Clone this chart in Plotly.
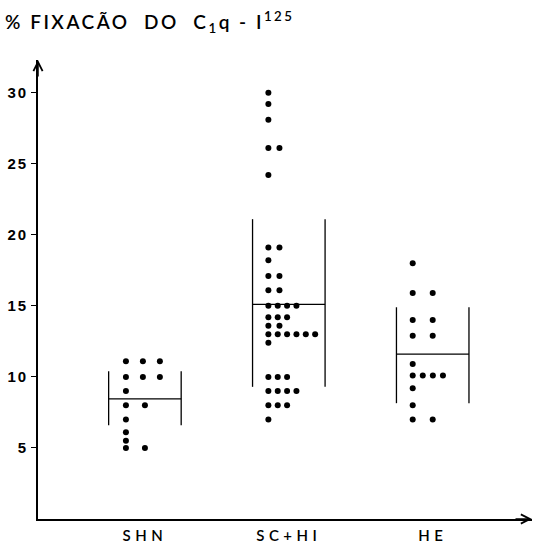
import plotly.graph_objects as go

# ---------------- data ----------------
categories = ["SHN", "SC+HI", "HE"]
shn_values = [11.1, 11.1, 11.1, 10.0, 10.0, 10.0, 9.0, 8.0, 8.0, 7.0, 6.1, 5.5, 5.0, 5.0]
schi_values = [30.0, 29.2, 28.1, 26.1, 26.1, 24.2, 19.1, 19.1, 18.2, 17.1, 17.1, 16.1, 16.1,
               15.0, 15.0, 15.0, 15.0, 14.2, 14.2, 14.2, 13.6, 13.6,
               13.0, 13.0, 13.0, 13.0, 13.0, 13.0, 12.4, 10.0, 10.0, 10.0,
               9.0, 9.0, 9.0, 9.0, 8.0, 8.0, 8.0, 7.0]
he_values = [18.0, 15.9, 15.9, 14.0, 14.0, 12.9, 12.9, 10.9, 10.1, 10.1, 10.1, 10.1, 9.2, 8.0, 7.0, 7.0]
group_means = [8.45, 15.1, 11.6]
group_upper = [10.4, 21.1, 14.9]
group_lower = [6.6, 9.3, 8.15]
y_tick_values = [5, 10, 15, 20, 25, 30]
y_tick_labels = ["5", "10", "15", "20", "25", "30"]

# ---------------- styling / layout parameters ----------------
group_values = [shn_values, schi_values, he_values]
dot_layout = [
    dict(start=-0.132, step=0.118, pair_step=0.132),
    dict(start=-0.142, step=0.065, pair_step=0.077),
    dict(start=-0.139, step=0.070, pair_step=0.139),
]
half_width = 0.252
LS = lambda s, px: f'<span style="letter-spacing:{px}px">{s}</span>'

fig = go.Figure()

# dots: identical values are laid side by side from a left start
for ci, (vals, lay) in enumerate(zip(group_values, dot_layout)):
    centre = ci + 1
    counts = {}
    totals = {v: vals.count(v) for v in vals}
    xs, ys = [], []
    for v in vals:
        k = counts.get(v, 0)
        counts[v] = k + 1
        step = lay["pair_step"] if totals[v] == 2 else lay["step"]
        xs.append(centre + lay["start"] + k * step)
        ys.append(v)
    fig.add_trace(go.Scatter(x=xs, y=ys, mode="markers",
                             marker=dict(color="black", size=6),
                             showlegend=False, hoverinfo="skip", cliponaxis=False))

# mean lines and +/- spread bars
lx, ly = [], []
for ci in range(len(categories)):
    c = ci + 1
    lx += [c - half_width, c + half_width, None]
    ly += [group_means[ci], group_means[ci], None]
    for side in (-1, 1):
        lx += [c + side * half_width, c + side * half_width, None]
        ly += [group_lower[ci], group_upper[ci], None]
fig.add_trace(go.Scatter(x=lx, y=ly, mode="lines", line=dict(color="black", width=1.3),
                         showlegend=False, hoverinfo="skip"))

fig.update_layout(
    width=537, height=547,
    margin=dict(l=38, r=5, t=60, b=28, autoexpand=False),
    paper_bgcolor="white", plot_bgcolor="white",
    title=dict(
        text=LS("%\u00a0FIXACÃO\u00a0\u00a0DO\u00a0\u00a0C<sub>1</sub>q - I<sup>125</sup>", 2.5),
        x=5 / 537, xanchor="left", xref="container",
        y=1 - 22 / 547, yanchor="middle", yref="container",
        font=dict(family="Lato", size=19, color="black", weight=600),
        automargin=False,
    ),
    xaxis=dict(range=[0.257, 3.69], showgrid=False, zeroline=False, automargin=False,
               showline=True, linecolor="black", linewidth=1.6,
               tickvals=[1, 2, 3], ticktext=[LS(c, 4.5) for c in categories],
               ticks="", ticklabelstandoff=2,
               tickfont=dict(family="Lato", size=15, color="black", weight=600)),
    yaxis=dict(range=[0, 32.3], showgrid=False, zeroline=False, automargin=False,
               showline=True, linecolor="black", linewidth=1.6,
               tickvals=y_tick_values, ticktext=[LS(t, 2) for t in y_tick_labels],
               ticks="outside", ticklen=5, tickwidth=1, tickcolor="black",
               tickfont=dict(family="Liberation Sans", size=15, color="black", weight="bold")),
    annotations=[
        dict(x=0, y=1, xref="paper", yref="paper", text="", showarrow=True,
             ax=0, ay=18, arrowhead=5, arrowsize=1.2, arrowwidth=1.5, arrowcolor="black"),
        dict(x=1, y=0, xref="paper", yref="paper", text="", showarrow=True,
             ax=-18, ay=0, arrowhead=5, arrowsize=1.2, arrowwidth=1.5, arrowcolor="black"),
    ],
)

fig.write_html("out.html", config={"displayModeBar": False},
               post_script="document.body.style.margin='0';document.body.style.padding='0';")
